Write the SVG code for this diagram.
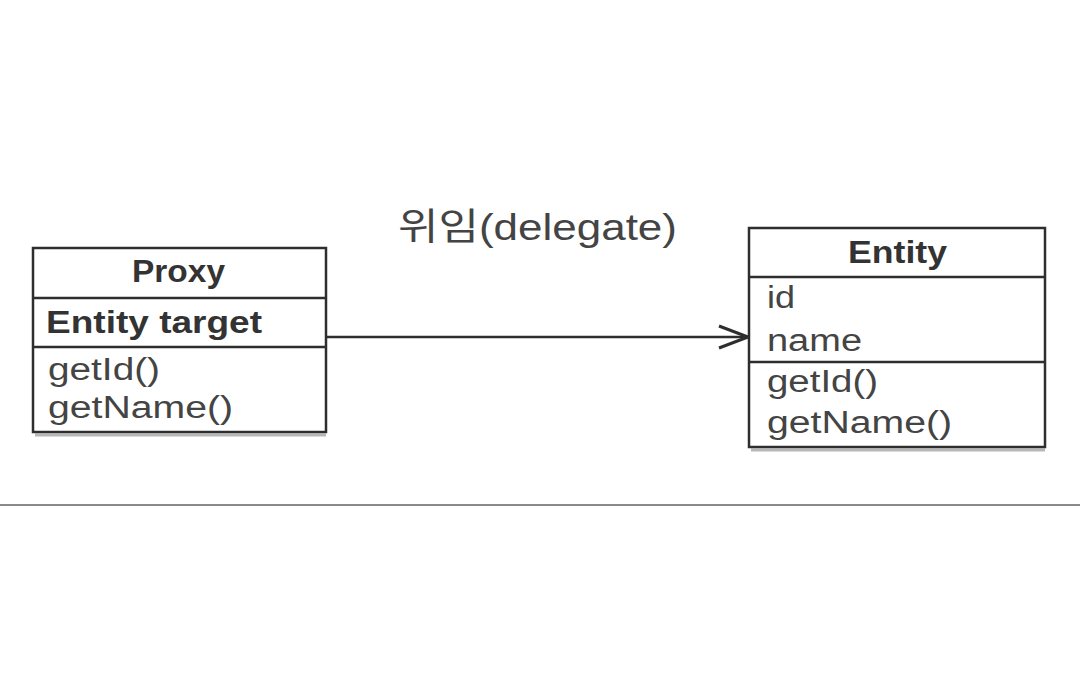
<svg xmlns="http://www.w3.org/2000/svg" width="1080" height="688" viewBox="0 0 1080 688">
<defs>
<style>
.box{fill:#fff;stroke:#2e2e2e;stroke-width:2.5}
.div{stroke:#2e2e2e;stroke-width:2.5}
.shadow{stroke:#9a9a9a;stroke-width:3;opacity:0.7}
.t{font-family:"Liberation Sans",Arial,sans-serif;font-size:31px;fill:#444}
.b{font-family:"Liberation Sans",Arial,sans-serif;font-size:31px;font-weight:bold;fill:#333}
.lbl{font-family:"Liberation Sans","Noto Sans CJK KR",sans-serif;font-size:37px;fill:#444}
.conn{stroke:#2e2e2e;stroke-width:2.5;fill:none}
</style>
<marker id="open" markerWidth="34" markerHeight="26" refX="31" refY="13" orient="auto" markerUnits="userSpaceOnUse">
<path d="M2,2 L31,13 L2,24" fill="none" stroke="#2e2e2e" stroke-width="3"/>
</marker>
</defs>
<rect width="1080" height="688" fill="#fff"/>
<line x1="0" y1="505" x2="1080" y2="505" stroke="#8a8a8a" stroke-width="2"/>
<g id="connectors">
<line class="conn" x1="326" y1="337" x2="748" y2="337" marker-end="url(#open)"/>
<text class="lbl" x="398" y="240" textLength="279" lengthAdjust="spacingAndGlyphs">위임(delegate)</text>
</g>
<g id="proxy">
<line class="shadow" x1="35" y1="435" x2="326" y2="435"/>
<rect class="box" x="33" y="248" width="293" height="184"/>
<line class="div" x1="33" y1="298" x2="326" y2="298"/>
<line class="div" x1="33" y1="347" x2="326" y2="347"/>
<text class="b" x="132" y="282" textLength="93" lengthAdjust="spacingAndGlyphs">Proxy</text>
<text class="b" x="46" y="333" textLength="216" lengthAdjust="spacingAndGlyphs">Entity target</text>
<text class="t" x="48" y="380" textLength="112" lengthAdjust="spacingAndGlyphs">getId()</text>
<text class="t" x="48" y="418" textLength="185" lengthAdjust="spacingAndGlyphs">getName()</text>
</g>
<g id="entity">
<line class="shadow" x1="751" y1="450" x2="1045" y2="450"/>
<rect class="box" x="749" y="228" width="296" height="219"/>
<line class="div" x1="749" y1="277" x2="1045" y2="277"/>
<line class="div" x1="749" y1="362" x2="1045" y2="362"/>
<text class="b" x="848" y="263" textLength="99" lengthAdjust="spacingAndGlyphs">Entity</text>
<text class="t" x="767" y="308" textLength="28" lengthAdjust="spacingAndGlyphs">id</text>
<text class="t" x="767" y="351" textLength="95" lengthAdjust="spacingAndGlyphs">name</text>
<text class="t" x="767" y="392" textLength="111" lengthAdjust="spacingAndGlyphs">getId()</text>
<text class="t" x="767" y="433" textLength="185" lengthAdjust="spacingAndGlyphs">getName()</text>
</g>
</svg>
